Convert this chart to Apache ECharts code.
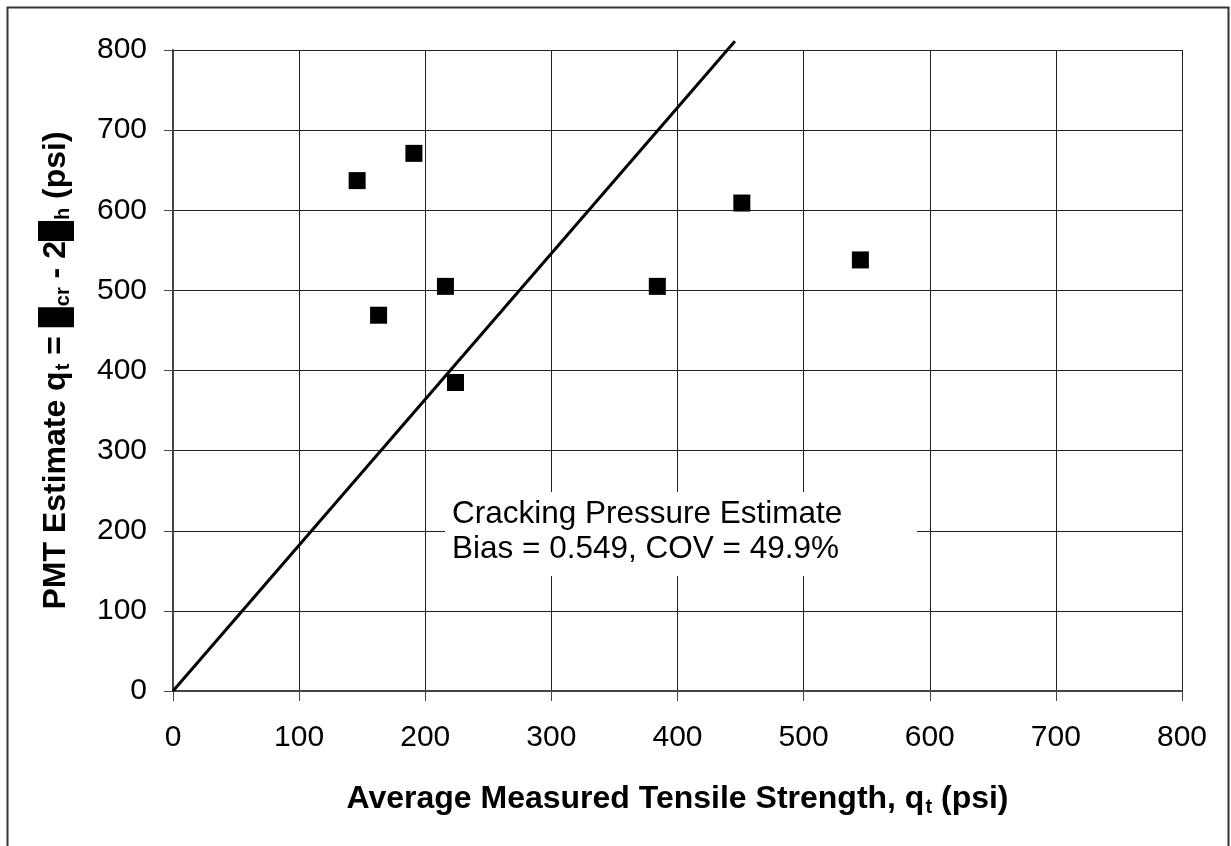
<!DOCTYPE html>
<html>
<head>
<meta charset="utf-8">
<script src="https://cdn.jsdelivr.net/npm/echarts@6/dist/echarts.min.js"></script>
<style>html,body{margin:0;padding:0;background:#fff}#c{width:1231px;height:846px}</style>
</head>
<body>
<div id="c"></div>
<script>
// Measured tensile strength (x) vs PMT estimate (y), psi
const measuredTensile = [146, 191, 216, 163, 224, 384, 451, 545];
const pmtEstimate     = [637, 671, 505, 469, 385, 505, 609, 538];
// bias line y = x / 0.549, extending slightly past the top
const biasLineX = [0, 445.5];
const biasLineY = [0, 811];
const axisTicks = [0, 100, 200, 300, 400, 500, 600, 700, 800];
const noteLines = ['Cracking Pressure Estimate', 'Bias = 0.549, COV = 49.9%'];

const FONT = '"Liberation Sans", Arial, sans-serif';
const chart = echarts.init(document.getElementById('c'), null, {renderer: 'canvas'});

const points = measuredTensile.map((x, i) => [x, pmtEstimate[i]]);
const line = biasLineX.map((x, i) => [x, biasLineY[i]]);

chart.setOption({
  animation: false,
  backgroundColor: '#fff',
  grid: {left: 173, right: 49, top: 50, bottom: 155, containLabel: false},
  xAxis: {
    type: 'value', min: axisTicks[0], max: axisTicks[axisTicks.length - 1], interval: 100,
    axisLine: {show: true, lineStyle: {color: '#444', width: 2}},
    axisTick: {show: true, length: 10, inside: false, lineStyle: {color: '#444', width: 1}},
    axisLabel: {color: '#000', fontSize: 30, fontFamily: FONT, margin: 32},
    splitLine: {show: true, lineStyle: {color: '#222', width: 1}},
    name: '{b|Average Measured Tensile Strength, q}{s|t}{b| (psi)}',
    nameLocation: 'middle', nameGap: 90,
    nameTextStyle: {
      rich: {
        b: {fontSize: 32, fontWeight: 'bold', fontFamily: FONT, color: '#000', lineHeight: 36, verticalAlign: 'middle'},
        s: {fontSize: 20, fontWeight: 'bold', fontFamily: FONT, color: '#000', lineHeight: 36, verticalAlign: 'bottom', padding: [0, 0, 0, 1]}
      }
    }
  },
  yAxis: {
    type: 'value', min: axisTicks[0], max: axisTicks[axisTicks.length - 1], interval: 100,
    axisLine: {show: true, lineStyle: {color: '#444', width: 2}},
    axisTick: {show: true, length: 9, inside: false, lineStyle: {color: '#444', width: 1}},
    axisLabel: {color: '#000', fontSize: 30, fontFamily: FONT, margin: 26},
    splitLine: {show: true, lineStyle: {color: '#222', width: 1}},
    name: '{b|PMT Estimate q}{s|t}{b| = }{box|σ}{s|cr}{b| - 2}{box|σ}{s|h}{b| (psi)}',
    nameLocation: 'middle', nameGap: 98, nameRotate: 90,
    nameTextStyle: {
      rich: {
        b: {fontSize: 32, fontWeight: 'bold', fontFamily: FONT, color: '#000', lineHeight: 38, verticalAlign: 'middle'},
        s: {fontSize: 20, fontWeight: 'bold', fontFamily: FONT, color: '#000', lineHeight: 38, verticalAlign: 'bottom', padding: [0, 0, 2, 1]},
        box: {fontSize: 20, fontFamily: FONT, color: '#000', backgroundColor: '#000', width: 20, height: 36, lineHeight: 36, align: 'center', verticalAlign: 'middle'}
      }
    }
  },
  series: [
    {
      type: 'line', data: line, showSymbol: false, symbol: 'none', clip: false,
      lineStyle: {color: '#000', width: 3}, z: 3, silent: true
    },
    {
      type: 'scatter', data: points, symbol: 'rect', symbolSize: 17,
      itemStyle: {color: '#000', opacity: 1}, z: 4
    }
  ],
  graphic: [
    {type: 'rect', left: 5, top: 5, shape: {width: 1221, height: 860}, style: {fill: 'none', stroke: '#333', lineWidth: 2}, z: 100, silent: true},
    {type: 'rect', left: 445, top: 492, shape: {width: 472, height: 84}, style: {fill: '#fff', stroke: 'none'}, z: 50},
    {type: 'text', left: 452, top: 497, style: {text: noteLines.join('\n'), fontSize: 31.5, fontFamily: FONT, fill: '#000', lineHeight: 35}, z: 51}
  ]
});
</script>
</body>
</html>
